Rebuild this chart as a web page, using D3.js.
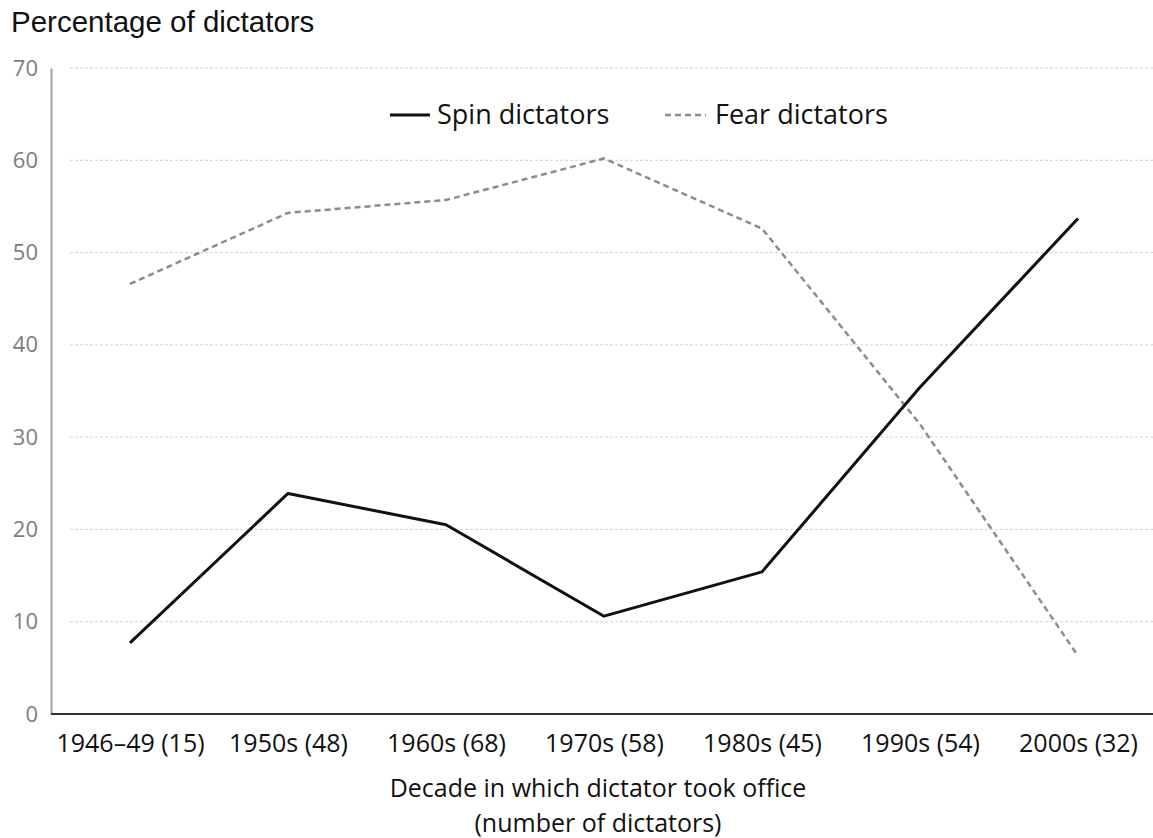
<!DOCTYPE html>
<html>
<head>
<meta charset="utf-8">
<script src="https://cdn.jsdelivr.net/npm/d3@7"></script>
<style>
  html, body { margin: 0; padding: 0; background: #ffffff; }
  svg { display: block; }
</style>
</head>
<body>
<svg id="chart" width="1153" height="838"></svg>
<script>
const categories = ["1946–49 (15)", "1950s (48)", "1960s (68)", "1970s (58)", "1980s (45)", "1990s (54)", "2000s (32)"];
const spinValues = [7.7, 23.9, 20.5, 10.6, 15.4, 35.4, 53.7];
const fearValues = [46.6, 54.3, 55.7, 60.2, 52.6, 31.4, 6.3];
const yTicks = [0, 10, 20, 30, 40, 50, 60, 70];
const seriesNames = ["Spin dictators", "Fear dictators"];
const titleText = "Percentage of dictators";
const xTitleLines = ["Decade in which dictator took office", "(number of dictators)"];

const svg = d3.select("#chart");
const W = 1153;

const x = d3.scalePoint().domain(categories).range([130, 1078]);
const y = d3.scaleLinear().domain([0, 70]).range([714, 68]);

// gridlines
svg.append("g").selectAll("line")
  .data(yTicks.filter(d => d > 0))
  .join("line")
  .attr("x1", 70).attr("x2", W)
  .attr("y1", d => y(d)).attr("y2", d => y(d))
  .attr("stroke", "#d2d2d2").attr("stroke-width", 1)
  .attr("stroke-dasharray", "3,2");

// y axis
const yAxis = svg.append("g")
  .attr("transform", "translate(51,0)")
  .call(d3.axisLeft(y).tickValues(yTicks).tickSize(0).tickPadding(13));
yAxis.select(".domain").attr("stroke", "#a0a0a0").attr("stroke-width", 2);
yAxis.selectAll("text")
  .attr("font-family", "'Open Sans', sans-serif")
  .attr("font-size", 22)
  .attr("fill", "#7d7d7d");

// x axis
const xAxis = svg.append("g")
  .attr("transform", "translate(0,714)")
  .call(d3.axisBottom(x).tickSize(0).tickPadding(20));
xAxis.select(".domain").remove();
svg.append("line")
  .attr("x1", 51).attr("x2", W)
  .attr("y1", y(0)).attr("y2", y(0))
  .attr("stroke", "#333").attr("stroke-width", 2);
xAxis.selectAll("text")
  .attr("font-family", "'Open Sans', sans-serif")
  .attr("font-size", 25)
  .attr("fill", "#111");

// lines
const line = d3.line()
  .x((d, i) => x(categories[i]))
  .y(d => y(d));

svg.append("path")
  .datum(fearValues)
  .attr("d", line)
  .attr("fill", "none")
  .attr("stroke", "#8c8c8c")
  .attr("stroke-width", 2.5)
  .attr("stroke-dasharray", "6,4");

svg.append("path")
  .datum(spinValues)
  .attr("d", line)
  .attr("fill", "none")
  .attr("stroke", "#111")
  .attr("stroke-width", 3)
  .attr("stroke-linejoin", "round");

// legend
const legend = svg.append("g");
legend.append("line")
  .attr("x1", 390).attr("x2", 430).attr("y1", 115).attr("y2", 115)
  .attr("stroke", "#111").attr("stroke-width", 3);
legend.append("text")
  .attr("x", 437).attr("y", 115).attr("dy", "0.35em")
  .attr("font-family", "'Open Sans', sans-serif").attr("font-size", 27)
  .attr("fill", "#111").text(seriesNames[0]);
legend.append("line")
  .attr("x1", 665).attr("x2", 706).attr("y1", 115).attr("y2", 115)
  .attr("stroke", "#8c8c8c").attr("stroke-width", 2.5)
  .attr("stroke-dasharray", "6,4");
legend.append("text")
  .attr("x", 715).attr("y", 115).attr("dy", "0.35em")
  .attr("font-family", "'Open Sans', sans-serif").attr("font-size", 27)
  .attr("fill", "#111").text(seriesNames[1]);

// title
svg.append("text")
  .attr("x", 11).attr("y", 32)
  .attr("font-family", "'Liberation Sans', Arial, sans-serif")
  .attr("font-size", 29.5)
  .attr("fill", "#111")
  .text(titleText);

// x axis title
svg.append("g").selectAll("text")
  .data(xTitleLines)
  .join("text")
  .attr("x", 598)
  .attr("y", (d, i) => 797 + i * 35)
  .attr("text-anchor", "middle")
  .attr("font-family", "'Open Sans', sans-serif")
  .attr("font-size", 25)
  .attr("fill", "#111")
  .text(d => d);
</script>
</body>
</html>
